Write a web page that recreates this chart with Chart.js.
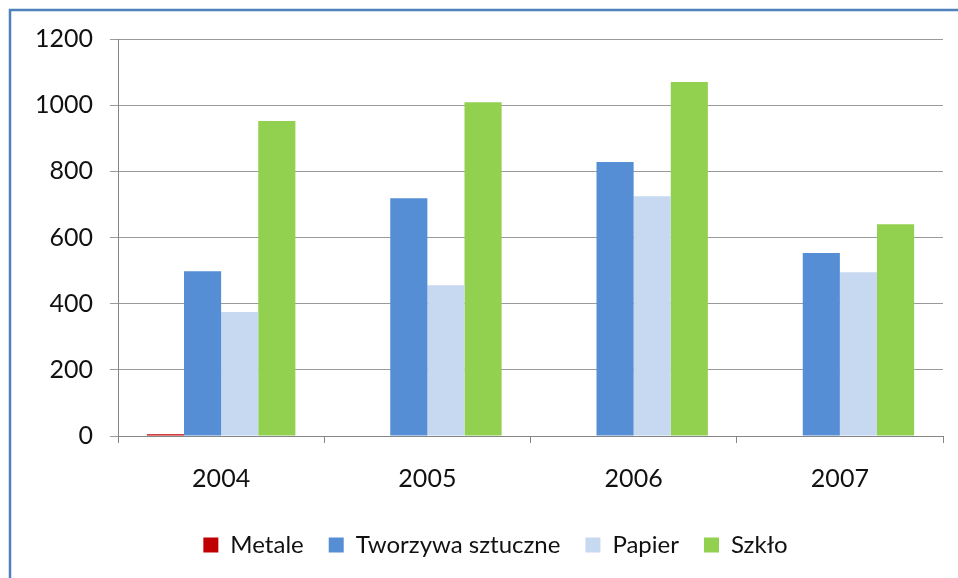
<!DOCTYPE html>
<html>
<head>
<meta charset="utf-8">
<script src="https://cdn.jsdelivr.net/npm/chart.js@4/dist/chart.umd.min.js"></script>
<style>
  html, body { margin: 0; padding: 0; background: #fff; }
  #wrap { position: absolute; left: 0; top: 0; width: 958px; height: 578px; }
</style>
</head>
<body>
<div id="wrap"><canvas id="wasteChart"></canvas></div>
<script>
const years = ["2004", "2005", "2006", "2007"];
const metale = [5, 0, 0, 0];
const tworzywa = [498, 719, 828, 553];
const papier = [375, 456, 725, 495];
const szklo = [952, 1009, 1070, 640];
const yTicks = [0, 200, 400, 600, 800, 1000, 1200];

const FONT = "Lato, 'Open Sans', sans-serif";

// white page + blue frame on left/top
const framePlugin = {
  id: "frame",
  beforeDraw(chart) {
    const ctx = chart.ctx;
    ctx.save();
    ctx.fillStyle = "#fff";
    ctx.fillRect(0, 0, chart.width, chart.height);
    ctx.strokeStyle = "#4F81BD";
    ctx.lineWidth = 2.5;
    ctx.beginPath();
    ctx.moveTo(10, chart.height);
    ctx.lineTo(10, 10);
    ctx.lineTo(chart.width, 10);
    ctx.stroke();
    ctx.restore();
  }
};

// legend sits a bit right of centre in the original
const legendShift = {
  id: "legendShift",
  afterLayout(chart) {
    if (!chart.legend) return;
    chart.legend.left += 24;
    chart.legend.right += 24;
  }
};

const canvas = document.getElementById("wasteChart");

new Chart(canvas, {
  type: "bar",
  data: {
    labels: years,
    datasets: [
      { label: "Metale", data: metale, backgroundColor: "#C00000" },
      { label: "Tworzywa sztuczne", data: tworzywa, backgroundColor: "#558ED5" },
      { label: "Papier", data: papier, backgroundColor: "#C6D9F1" },
      { label: "Szkło", data: szklo, backgroundColor: "#92D050" }
    ]
  },
  options: {
    responsive: true,
    maintainAspectRatio: false,
    animation: false,
    categoryPercentage: 0.72,
    barPercentage: 1,
    layout: {
      padding: { top: 39, right: 15, left: 0, bottom: 11 }
    },
    plugins: {
      legend: {
        position: "bottom",
        labels: {
          boxWidth: 15,
          boxHeight: 15,
          padding: 25,
          color: "#111",
          font: { family: FONT, size: 24 }
        }
      },
      tooltip: { enabled: false }
    },
    scales: {
      x: {
        grid: {
          offset: true,
          drawOnChartArea: false,
          drawTicks: true,
          tickLength: 7,
          color: "#868686"
        },
        border: { color: "#868686", width: 1 },
        ticks: {
          padding: 21,
          color: "#111",
          font: { family: FONT, size: 25 }
        },
        afterFit(scale) { scale.height = 72; }
      },
      y: {
        min: 0,
        max: 1200,
        afterBuildTicks(scale) {
          scale.ticks = yTicks.map(v => ({ value: v }));
        },
        grid: {
          color: "#9A9A9A",
          tickLength: 8
        },
        border: { color: "#868686", width: 1 },
        ticks: {
          padding: 17,
          color: "#111",
          font: { family: FONT, size: 25 },
          callback: v => String(v)
        },
        afterFit(scale) { scale.width = 118; }
      }
    }
  },
  plugins: [framePlugin, legendShift]
});
</script>
</body>
</html>
